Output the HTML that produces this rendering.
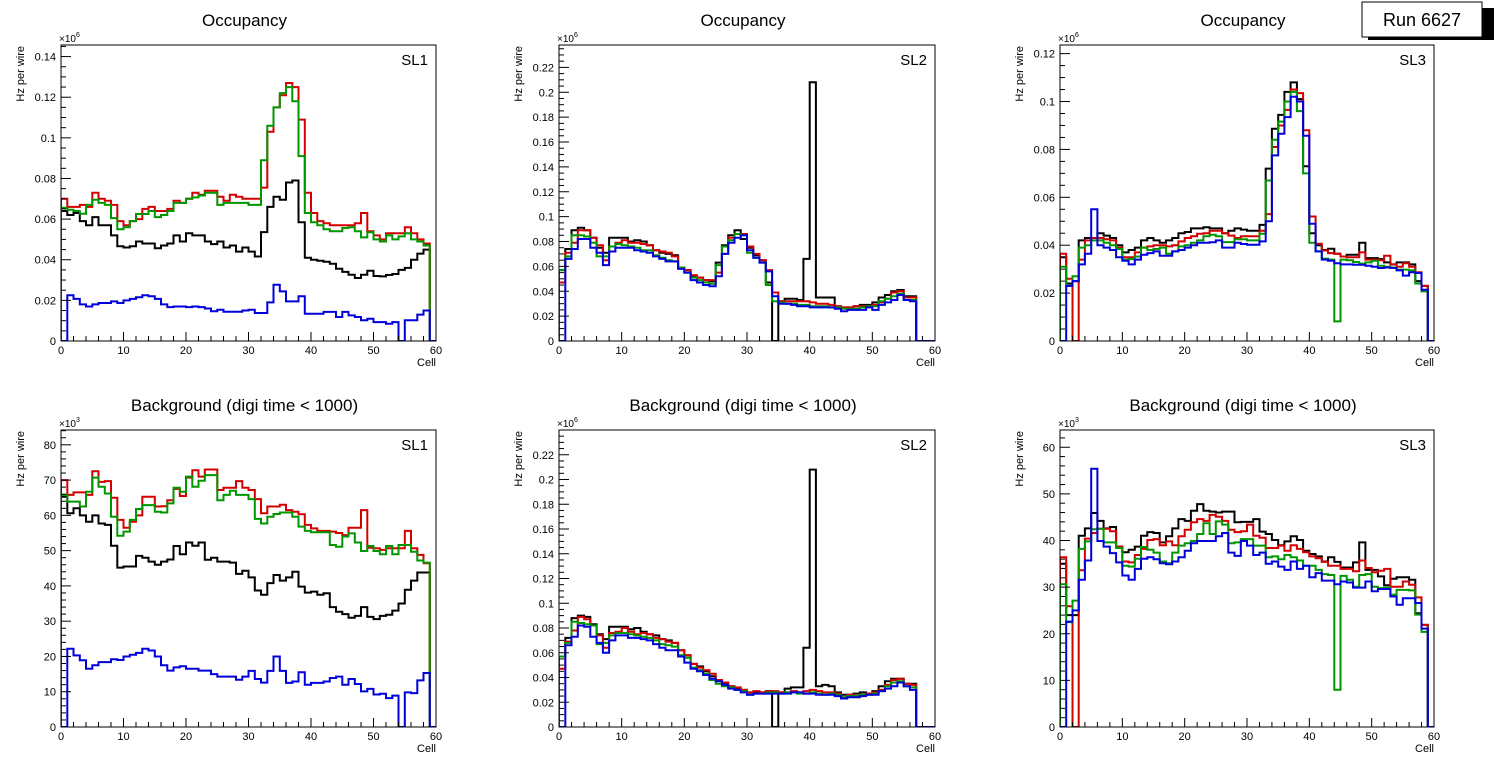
<!DOCTYPE html>
<html><head><meta charset="utf-8"><style>
html,body{margin:0;padding:0;background:#fff;}
svg{display:block;font-family:"Liberation Sans",Arial,sans-serif;}
</style></head><body>
<svg id="c" width="1496" height="772" viewBox="0 0 1496 772" xmlns="http://www.w3.org/2000/svg">
<rect x="0" y="0" width="1496" height="772" fill="#fff"/>
<g>
<rect x="1368" y="8" width="126" height="32" fill="#000"/>
<rect x="1362" y="2" width="120" height="35" fill="#fff" stroke="#000" stroke-width="1"/>
<text x="1422" y="26" font-size="18" text-anchor="middle">Run 6627</text>
</g>
</svg>
<script>
// ---- data (values in units of the axis multiplier; top row & SL2 bottom in 1e3 units) ----
const cells = Array.from({length:60},(_,i)=>i);
const xTicks = [0,10,20,30,40,50,60];

const occSL1_black=[64,62,63,59,57,61,57,57,52,46.6,46,46.6,49,48,48,45.7,47,48,52,49,53,52,52,49,47.7,49,46,47,44,46,44,41.6,53.6,66,71,69.5,78,79,58.5,41,40,39.5,39,38,35.6,34,32.6,31,32.6,34.6,32,31.8,32.5,33,35,36,40,43,45,0];
const occSL1_red=[70,66,66,67,66,73,70,69,67,59,57,59,60,65,66,64,64,65,69,68,70,73,72,74,74,71,69,72,71,70,70,70,75.5,103,115,121,127,125,109,73,63,59,58,57,57,57,57,58,63,54,52,50,53,53,53,56,53,50,48,0];
const occSL1_green=[65.6,64.6,64,62.6,67,69.5,68,67,60.5,55,56,59,62.5,62.5,64,61,62,64,68,68,70,70.7,71.6,73,73,67,68,68,68,68,67,67,89,106,115,122,125,118,91,63,58.5,57,55,54,54,55.6,56,54,51,53.5,50,49,52,50,51.5,53,50,49,47,0];
const occSL1_blue=[0,22.5,20.7,18,17,18,18.7,18.7,19.5,18.7,20,20.7,21.5,22.5,22,20.7,18,16.7,17,17,16.7,17,16.7,16,14.6,15.4,14.4,14.4,14.4,15,15.4,13.8,13.8,19,27.7,24.4,19.5,19.5,22,13.4,13.4,13.4,14.3,14.3,11.8,14.3,12.6,11.8,10.2,11,9.3,9.3,8.5,9.3,0,10.2,10.2,13,15,0];

const occSL2_black=[57,74,89,91,89,83,75,71,83,83,83,80,81,80,77,73,71,70,69,59,57,52,51,49,48,63,77,85,89,82,75,69,65,47,0,32,34,34,33,66,208,35,35,35,28,27,27,28,29,29,31,35,37,40,41,36,36,0,0,0];
const occSL2_red=[47,71,79,89,89,83,77,65,76,79,81,79,79,78,77,73,72,71,68,59,57,53,51,49,49,55,70,83,86,86,76,70,65,57,39,32,32,32,32,32,31,30,30,29,28,27,27,28,28,28,29,31,34,39,40,35,35,0,0,0];
const occSL2_green=[57,68,85,85,84,79,68,68,76,78,77,76,75,73,73,69,67,65,64,59,55,51,49,47,46,61,76,81,86,85,71,67,63,45,32,31,30,30,29,29,28,28,28,27,27,26,26,26,27,28,28,32,34,36,38,33,33,0,0,0];
const occSL2_blue=[0,66,74,82,82,75,71,61,72,75,75,75,73,72,71,68,66,64,64,58,55,49,47,45,44,52,70,79,83,85,73,67,63,56,36,30,30,29,28,28,27,27,27,27,26,24,25,25,25,27,25,29,31,33,37,33,32,0,0,0];

const occSL3_black=[35,24,25,42,43,43,45,44,43,40,37,38,39,42,43,42,41,42,43,45,45.5,47,47,47.5,47,47,45,46,47,46.5,46,46,48.5,72,88.6,94.4,104,108,101,73,45,40,38,38.5,36.4,35.3,36,36,41,34.6,34.6,34.2,32.8,32,32.8,32.8,32,25,23,0];
const occSL3_red=[36.4,26,0,34,42,43,43,42.5,42,39,35,35,37,39,39.5,40,40,39.5,40,41.6,43,43.7,44.8,45,46,46,45,44,43,43.7,43.7,43.7,46,53,81,90,96.5,105,103.5,88,52,40.6,37.8,36.7,36.4,35.3,35,35,37,34,34,33.7,35.6,32,31,32.5,31,28.7,23,0];
const occSL3_green=[31,23,27,39,40,42,42,41,40,38.4,34,34.2,35.3,39,38,38.4,39,36.4,37.4,39.5,40,41,42,43.7,44.4,43.7,41.3,41.3,42.5,42.5,42,42,44.8,67,84,91.6,100,104,96,70,41,37.4,34.4,34,8.2,34,33.7,33,32.3,32.8,33.5,31.4,31,30.7,29.8,29.8,29.5,24,20.7,0];
const occSL3_blue=[0,23,25,32,36.4,55,40,39,38,35,33.5,32,34,36,36.7,37.4,35.6,35.6,37.4,38,39,40,41,41,41.2,42,39,39,41,40.5,40.2,40.2,41.6,50,77.5,86.5,93.5,102,100,85.7,49,37.4,34,33.5,32.5,32,32,31.8,31.8,31.4,31,30.5,30.7,30.5,29.5,27.3,28.7,28.4,21.4,0];

const bkgSL1_black=[65.3,60.6,62,60,58.2,60,57.7,57.3,51.4,45.2,45.5,45.5,48.5,48,46.9,46,46.9,47.5,51.3,49,52.3,51.4,52.3,47.4,48,46.9,46.9,46.6,43.4,44.3,42.4,38.7,37.5,40.8,43.1,41.5,42.4,44,39.8,38.1,38.4,37.5,37.9,34,32.7,32,31,31.5,34,31.2,30.6,31.5,31.8,33,35,38.9,41.5,43.8,43.8,0];
const bkgSL1_red=[70,65.8,66.5,66.5,65.8,72.5,69.5,69.7,65,58.7,56.5,58.2,60,65.3,65.3,62.5,62.6,64.3,67.5,65.5,70.7,72.8,71,73,73,67.2,67.8,67.8,69.7,67.8,67.2,64.6,60.6,62.5,62.5,63,61.5,61,60.3,57.3,56.3,55.6,55.6,55.4,55,54.4,56.5,56.5,61.5,50.8,50.7,50.2,50.7,50.7,50.7,55.6,50.7,48.8,46.4,0];
const bkgSL1_green=[65.8,63.9,63.9,62.5,66.7,70.7,68.1,66.2,59.6,54.2,55.4,58.7,61.8,62.9,62.9,61,60.8,63.4,67.8,66.7,71,68.1,69.8,71.4,71.4,64.3,65.8,67,65.8,65.8,64.6,59,57.7,59.6,60.4,60.8,60.8,59.6,56.8,55.6,55.2,55.2,55.2,51.6,51.1,54,54.9,52.3,49.9,51.3,49.9,49,51.3,49,51.6,51.6,49.7,47.2,46.6,0];
const bkgSL1_blue=[0,22.2,20.3,18.9,16.5,17.5,18.4,18.4,19.2,19,20,20.5,21,22.2,21.7,20,17.5,16,16.9,17.2,16.5,16.5,16,16,15,14.3,14.3,14.3,13.4,14.3,15.9,13.6,12.6,15.9,20,15.9,12.5,12.9,15.5,12,12.5,12.5,12.9,13.9,14.3,12,13.6,12.2,10.1,10.8,9.2,9.4,8.2,8.9,0,9.8,9.6,13.2,15.3,0];

const bkgSL2_black=[57,72,88,90,89,83,75,71,81,81,81,79,80,77,75,74,71,70,68,62,58,51,49,45,41,38,35,33,31,30,28,28,28,29,0,28,31,32,32,64,208,33,34,33,28,26,26,27,28,27,29,33,37,39,39,35,35,0,0,0];
const bkgSL2_red=[47,69,78,89,87,82,74,64,76,77,80,77,75,76,75,72,71,69,68,62,58,51,48,46,43,38,36,33,32,30,28,29,28,29,29,28,28,29,28,29,30,29,28,28,27,24,26,25,26,27,28,30,34,38,39,35,34,0,0,0];
const bkgSL2_green=[57,68,85,84,83,82,67,68,74,76,76,75,74,73,72,70,67,66,65,58,56,48,46,43,38,35,33,32,30,29,26,27,27,28,28,27,28,28,27,27,28,27,26,27,26,24,25,25,26,26,27,29,33,36,37,33,32,0,0,0];
const bkgSL2_blue=[0,66,73,82,81,73,68,60,70,74,74,72,72,71,70,67,64,62,62,57,52,47,45,42,39,37,34,31,30,28,26,27,27,27,27,27,27,28,28,27,27,26,26,26,25,23,24,24,25,26,26,29,31,33,36,33,30,0,0,0];

const bkgSL3_black=[35,24,24,41,42.6,45.9,44.2,42.6,42.9,38.7,37.5,38,38.7,41,41.8,41.6,39.6,40.9,42.6,44.6,44.2,46.4,47.8,46.4,46.2,46,46.2,46.2,43.9,44,44,44.6,41.9,41.4,40.1,39,39.8,40.9,40.1,37.8,37.1,36.6,35.5,36.4,35.4,34.2,34.2,35.3,39.6,33.7,33.7,32.3,30.4,31.8,32.1,32.1,31.6,24.4,21.9,0];
const bkgSL3_red=[36.4,25.9,0,33.6,40.4,41.6,42.5,42.5,42,38.7,35.5,35.3,36.9,38.2,40.1,40.3,39,39.8,39,40.9,42.3,43.9,44.6,44.2,45.5,45.1,44.2,42.3,41.8,42,43.4,41,40.6,38.4,38.4,38.9,37.8,39,38.2,37.5,36.6,36.2,35.4,34.6,34.6,33.9,33.9,33.4,35.7,34.1,33.2,33.5,33.9,30.1,30.1,31.2,30.5,27.8,21.9,0];
const bkgSL3_green=[30.6,22.5,27.1,38.2,39.8,42.4,42.5,39.6,39.6,38.4,34.6,34.4,36.1,38.6,38,37.4,35.5,35.1,37.4,38.9,39.4,39.9,41.4,43.7,41.4,44.1,43.4,39.4,39.6,40.3,40.3,38.9,38.9,36.4,36.6,36,36.9,36.4,35.7,34.6,34.6,33.7,32.8,32.6,8,32.4,31.6,30.1,32.6,32.8,30.1,29.8,29.9,28.4,29.4,29.4,29.3,24.1,20.4,0];
const bkgSL3_blue=[0,22.6,25,31.6,35.7,55.4,39.9,38.7,37.3,35.3,32.5,31.6,33.9,36.1,36.4,36,35.1,34.9,35.5,36.4,37.8,39.4,39.9,39.9,39.9,40.9,41.6,37.4,36.7,39.9,38.9,36.9,37.4,35,35.5,34.4,33.7,35.5,33.9,34.6,32.1,33,31.4,31.4,30.6,31.2,31,29.9,29.9,31.2,29.1,29.6,29.6,28,26.2,27.6,27.6,26.6,21.1,0];

const yTicksTop1=[0,20,40,60,80,100,120,140];
const yTicksTop2=[0,20,40,60,80,100,120,140,160,180,200,220];
const yTicksTop3=[0,20,40,60,80,100,120];
const yTicksBkg1=[0,10,20,30,40,50,60,70,80];
const yTicksBkg3=[0,10,20,30,40,50,60];

const NS="http://www.w3.org/2000/svg";
const svg=document.getElementById('c');
const colors={black:"#000000",red:"#d40000",green:"#009600",blue:"#0000dd"};

function mk(tag,attrs,parent){const e=document.createElementNS(NS,tag);for(const k in attrs)e.setAttribute(k,attrs[k]);(parent||svg).appendChild(e);return e;}

function fmtTick(v,milli){ if(v===0) return "0"; if(milli){ return String(+(v/1000).toFixed(2)); } return String(v); }

const panels=[
 {id:"occ-sl1",title:"Occupancy",sl:"SL1",x0:61,x1:436,y0:45,y1:341,ymax:145.7,ticks:yTicksTop1,milli:true,minor:4,exp:"6",series:{black:occSL1_black,red:occSL1_red,green:occSL1_green,blue:occSL1_blue}},
 {id:"occ-sl2",title:"Occupancy",sl:"SL2",x0:559,x1:935,y0:45,y1:341,ymax:238,ticks:yTicksTop2,milli:true,minor:4,exp:"6",series:{black:occSL2_black,red:occSL2_red,green:occSL2_green,blue:occSL2_blue}},
 {id:"occ-sl3",title:"Occupancy",sl:"SL3",x0:1060,x1:1434,y0:45,y1:341,ymax:123.6,ticks:yTicksTop3,milli:true,minor:4,exp:"6",series:{black:occSL3_black,red:occSL3_red,green:occSL3_green,blue:occSL3_blue}},
 {id:"bkg-sl1",title:"Background (digi time < 1000)",sl:"SL1",x0:61,x1:436,y0:430,y1:727,ymax:84.2,ticks:yTicksBkg1,milli:false,minor:5,exp:"3",series:{black:bkgSL1_black,red:bkgSL1_red,green:bkgSL1_green,blue:bkgSL1_blue}},
 {id:"bkg-sl2",title:"Background (digi time < 1000)",sl:"SL2",x0:559,x1:935,y0:430,y1:727,ymax:240,ticks:yTicksTop2,milli:true,minor:4,exp:"6",series:{black:bkgSL2_black,red:bkgSL2_red,green:bkgSL2_green,blue:bkgSL2_blue}},
 {id:"bkg-sl3",title:"Background (digi time < 1000)",sl:"SL3",x0:1060,x1:1434,y0:430,y1:727,ymax:63.7,ticks:yTicksBkg3,milli:false,minor:5,exp:"3",series:{black:bkgSL3_black,red:bkgSL3_red,green:bkgSL3_green,blue:bkgSL3_blue}}
];

panels.forEach((p,pi)=>{
  const g=mk('g',{});
  
  
  const X=v=>p.x0+(v/60)*(p.x1-p.x0);
  const Y=v=>p.y1-(v/p.ymax)*(p.y1-p.y0);
  const cx=(p.x0+p.x1)/2;
  const t=mk('text',{x:cx-4,y:p.y0-19,'font-size':17,'text-anchor':'middle'},g);t.textContent=p.title;
  
  
  // clip
  const cid='clip'+pi;
  const cp=mk('clipPath',{id:cid},g);mk('rect',{x:p.x0,y:p.y0,width:p.x1-p.x0,height:p.y1-p.y0},cp);
  // series
  const sg=mk('g',{'clip-path':'url(#'+cid+')'},g);
  ["black","red","green","blue"].forEach(name=>{
    const vals=p.series[name];
    let d="M"+X(0)+","+Y(0);
    vals.forEach((v,i)=>{d+=" V"+Y(v).toFixed(1)+" H"+X(cells[i]+1).toFixed(1);});
    d+=" V"+Y(0);
    const path=mk('path',{d:d,fill:'none',stroke:colors[name],'stroke-width':2,'stroke-linejoin':'miter'},sg);
    
    
  });
  // frame
  mk('rect',{x:p.x0,y:p.y0,width:p.x1-p.x0,height:p.y1-p.y0,fill:'none',stroke:'#000','stroke-width':1},g);
  // x ticks
  for(let v=0;v<=60;v+=2){const major=v%10===0;mk('line',{x1:X(v),x2:X(v),y1:p.y1,y2:p.y1-(major?9:5),stroke:'#000','stroke-width':1},g);}
  xTicks.forEach(v=>{const tt=mk('text',{x:X(v),y:p.y1+13,'font-size':11,'text-anchor':'middle'},g);tt.textContent=String(v);
    
    });
  const xl=mk('text',{x:p.x1,y:p.y1+25,'font-size':11,'text-anchor':'end'},g);xl.textContent="Cell";
  
  
  // y ticks
  const step=p.ticks[1]-p.ticks[0];
  for(let v=0;v<=p.ymax+1e-6;v+=step/p.minor){const major=Math.abs(v/step-Math.round(v/step))<1e-6;mk('line',{x1:p.x0,x2:p.x0+(major?10:5),y1:Y(v),y2:Y(v),stroke:'#000','stroke-width':1},g);}
  p.ticks.forEach(v=>{const tt=mk('text',{x:p.x0-5,y:Y(v)+4,'font-size':11,'text-anchor':'end'},g);tt.textContent=fmtTick(v,p.milli);
    
    });
  const ex=mk('text',{x:p.x0-2,y:p.y0-3,'font-size':10},g);ex.textContent="\u00d710";
  const es=mk('tspan',{dy:-5,'font-size':7},ex);es.textContent=p.exp;
  
  
  const yl=mk('text',{x:0,y:0,'font-size':11,'text-anchor':'end',transform:'translate('+(p.x0-37)+','+(p.y0+1)+') rotate(-90)'},g);yl.textContent="Hz per wire";
  
  
  const sl=mk('text',{x:p.x1-8,y:p.y0+20,'font-size':15,'text-anchor':'end'},g);sl.textContent=p.sl;
  
  
});
</script>
</body></html>
